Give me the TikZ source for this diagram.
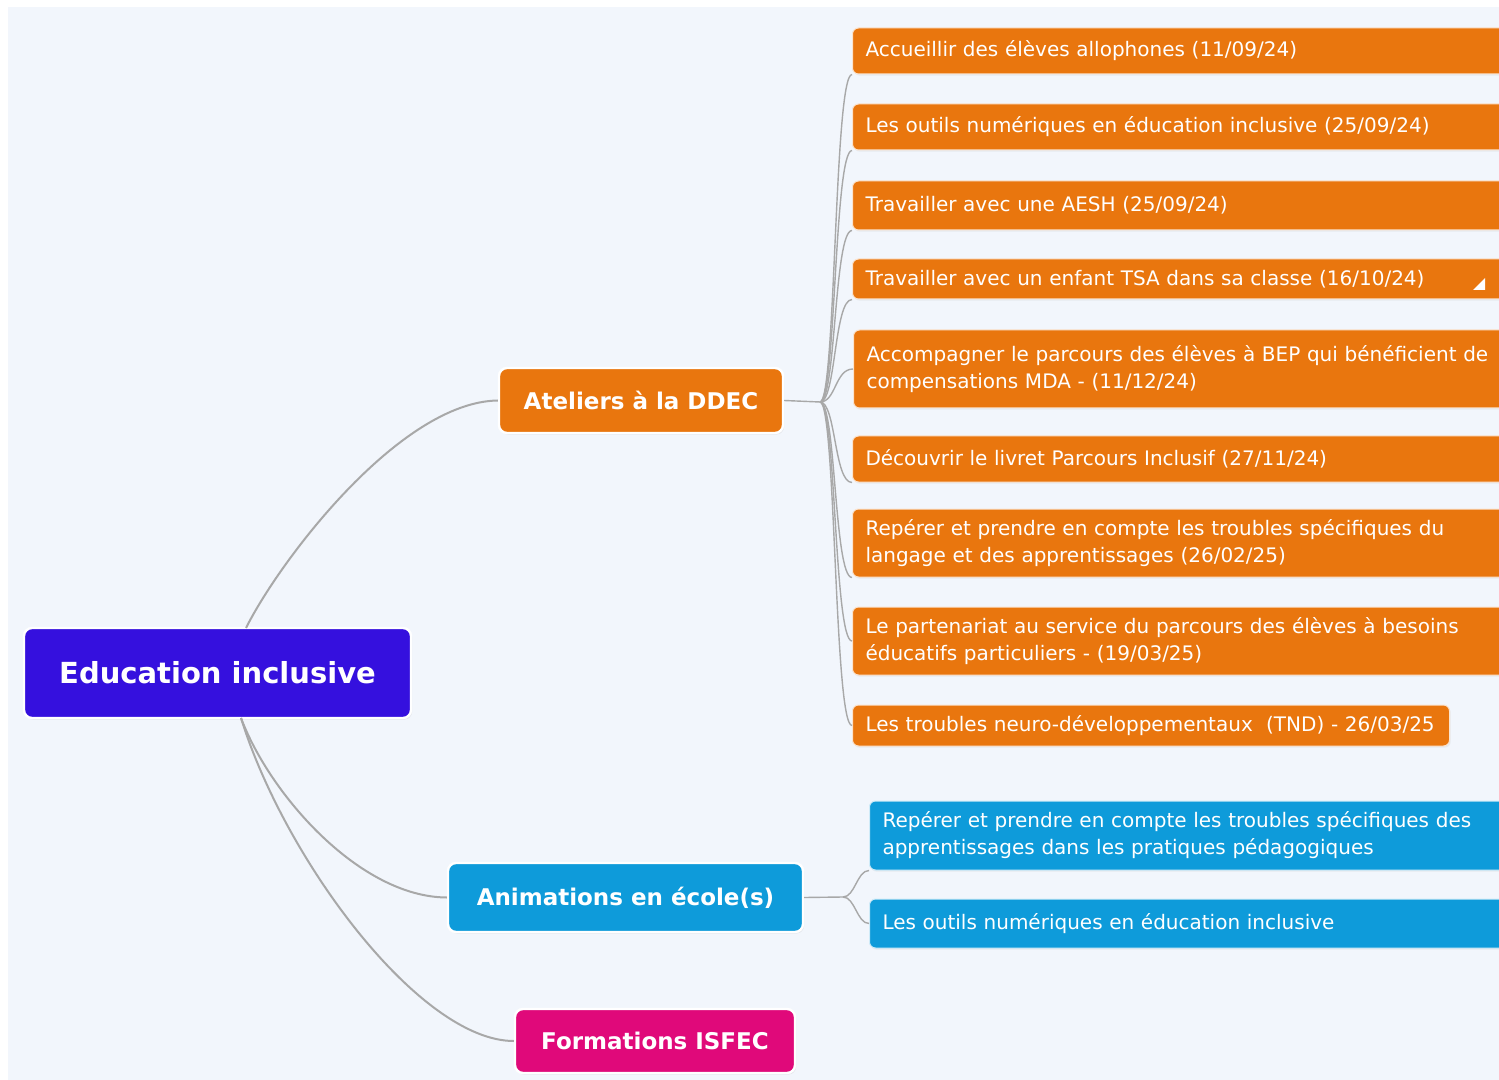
\documentclass[tikz,border=0pt]{standalone}
\usepackage{fontspec}
\setmainfont{DejaVu Sans}
\usetikzlibrary{shadows}

\definecolor{bgcol}{HTML}{F2F6FC}
\definecolor{rootcol}{HTML}{3510DE}
\definecolor{orangecol}{HTML}{E9760E}
\definecolor{bluecol}{HTML}{0E9BDA}
\definecolor{pinkcol}{HTML}{E0097A}
\definecolor{linkcol}{HTML}{A8A8A8}

\tikzset{
  topic/.style={rounded corners=4pt, draw=white, line width=1.2pt, text=white,
    font=\bfseries, drop shadow={opacity=0.12, shadow xshift=0.6pt, shadow yshift=-0.8pt}},
  leaf/.style={rounded corners=3pt, draw=white!80!orangecol, line width=0.5pt, text=white,
    font=\fontsize{10}{13.5}\selectfont, anchor=west, align=left, inner xsep=6.5pt,
    drop shadow={opacity=0.10, shadow xshift=0.6pt, shadow yshift=-0.8pt}},
  link/.style={draw=linkcol, line width=1pt},
  twig/.style={draw=linkcol, line width=0.7pt}
}

\begin{document}
\begin{tikzpicture}[x=0.5pt, y=-0.5pt]
\fill[white] (0,0) rectangle (1499,1080);
\fill[bgcol] (8,7) rectangle (1499,1080);
\clip (0,0) rectangle (1499,1080);

\node[topic, fill=rootcol, minimum width=193.5pt, minimum height=45pt, font=\fontsize{14.5}{16}\bfseries\selectfont] (root) at (217.5,673) {Education inclusive};
\node[topic, fill=orangecol, minimum width=142pt, minimum height=32.5pt, font=\fontsize{11.5}{13}\bfseries\selectfont] (ateliers) at (641,400.5) {Ateliers à la DDEC};
\node[topic, fill=bluecol, minimum width=177.5pt, minimum height=34.5pt, font=\fontsize{11.5}{13}\bfseries\selectfont] (anim) at (625.5,897.5) {Animations en école(s)};
\node[topic, fill=pinkcol, minimum width=140pt, minimum height=32pt, font=\fontsize{11.5}{13}\bfseries\selectfont] (isfec) at (655,1041) {Formations ISFEC};

% ateliers
\node[leaf, fill=orangecol, text width=322pt, minimum height=23pt] (a1) at (852,51) {Accueillir des élèves allophones (11/09/24)};
\node[leaf, fill=orangecol, text width=322pt, minimum height=23pt] (a2) at (852,127) {Les outils numériques en éducation inclusive (25/09/24)};
\node[leaf, fill=orangecol, text width=322pt, minimum height=24.5pt] (a3) at (852,205.5) {Travailler avec une AESH (25/09/24)};
\node[leaf, fill=orangecol, text width=322pt, minimum height=20pt] (a4) at (852,279) {Travailler avec un enfant TSA dans sa classe (16/10/24)};
\node[leaf, fill=orangecol, text width=322pt, minimum height=39pt] (a5) at (853,369) {Accompagner le parcours des élèves à BEP qui bénéficient de\\compensations MDA - (11/12/24)};
\node[leaf, fill=orangecol, text width=322pt, minimum height=23pt] (a6) at (852,459) {Découvrir le livret Parcours Inclusif (27/11/24)};
\node[leaf, fill=orangecol, text width=322pt, minimum height=34pt] (a7) at (852,543) {Repérer et prendre en compte les troubles spécifiques du\\langage et des apprentissages (26/02/25)};
\node[leaf, fill=orangecol, text width=322pt, minimum height=34pt] (a8) at (852,641) {Le partenariat au service du parcours des élèves à besoins\\éducatifs particuliers - (19/03/25)};
\node[leaf, fill=orangecol, text width=285.5pt, minimum height=20.5pt] (a9) at (852,725.5) {Les troubles neuro-développementaux~~(TND) - 26/03/25};

% animations
\node[leaf, fill=bluecol, draw=white!80!bluecol, text width=322pt, minimum height=34.5pt] (b1) at (869,835.5) {Repérer et prendre en compte les troubles spécifiques des\\apprentissages dans les pratiques pédagogiques};
\node[leaf, fill=bluecol, draw=white!80!bluecol, text width=322pt, minimum height=24.5pt] (b2) at (869,923.5) {Les outils numériques en éducation inclusive};

\fill[white] (1473,290) -- (1485,290) -- (1485,278) -- cycle;

% main links
\coordinate (rtop) at (246,628);
\coordinate (rbot) at (241,718);
\draw[link] (rtop) .. controls (280,560) and (400,402) .. (ateliers.west);
\draw[link] (rbot) .. controls (270,795) and (360,897) .. (anim.west);
\draw[link] (rbot) .. controls (285,860) and (420,1041) .. (isfec.west);

% fork from ateliers
\coordinate (fa) at (820,402);
\draw[twig] (ateliers.east) -- (fa);
\foreach \k in {a1,a2,a3,a4,a6,a7}
  \draw[twig] (fa) .. controls +(16,0) and +(-18,0) .. (\k.south west);
\foreach \k in {a5,a8,a9}
  \draw[twig] (fa) .. controls +(16,0) and +(-18,0) .. (\k.west);

% fork from animations
\coordinate (fb) at (843,897);
\draw[twig] (anim.east) -- (fb);
\draw[twig] (fb) .. controls +(12,0) and +(-12,0) .. (b1.south west);
\draw[twig] (fb) .. controls +(12,0) and +(-12,0) .. (b2.west);
\end{tikzpicture}
\end{document}
